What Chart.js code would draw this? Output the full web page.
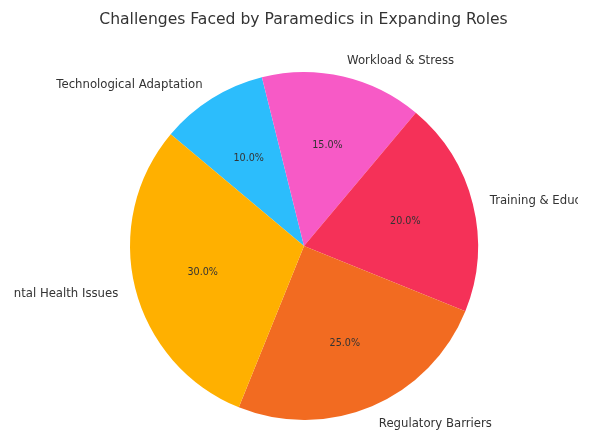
<!DOCTYPE html>
<html>
<head>
<meta charset="utf-8">
<script src="https://cdn.jsdelivr.net/npm/chart.js@4.4.0/dist/chart.umd.min.js"></script>
<style>
  html, body { margin: 0; padding: 0; background: #fff; }
  canvas { display: block; }
</style>
</head>
<body>
<canvas id="chart" width="590" height="432"></canvas>
<script>
// data in matplotlib order (counter-clockwise from 140 deg)
const labels = ['Mental Health Issues', 'Regulatory Barriers', 'Training & Education', 'Workload & Stress', 'Technological Adaptation'];
const shares = [30, 25, 20, 15, 10];
const colors = ['#FFB000', '#F26B21', '#F53158', '#F75AC6', '#2CBDFC'];

const chartTitle = 'Challenges Faced by Paramedics in Expanding Roles';
const FONT = '"DejaVu Sans", sans-serif';

// chart.js goes clockwise, so flip the order
const revLabels = labels.slice().reverse();
const revShares = shares.slice().reverse();
const revColors = colors.slice().reverse();

const pieLabels = {
    id: 'pieLabels',
    afterDraw(chart) {
        const ctx = chart.ctx;
        const total = revShares.reduce((a, b) => a + b, 0);
        ctx.save();
        // original image is cut off on both sides
        ctx.beginPath();
        ctx.rect(14, 0, 564, 432);
        ctx.clip();
        // title
        ctx.fillStyle = '#333333';
        ctx.font = '15.6px ' + FONT;
        ctx.textAlign = 'center';
        ctx.textBaseline = 'middle';
        ctx.fillText(chartTitle, 303.5, 20);

        chart.getDatasetMeta(0).data.forEach((arc, i) => {
            const mid = (arc.startAngle + arc.endAngle) / 2;
            const r = arc.outerRadius;
            const c = Math.cos(mid), s = Math.sin(mid);
            // outer label
            ctx.font = '11.7px ' + FONT;
            ctx.fillStyle = '#333333';
            ctx.textAlign = c >= 0 ? 'left' : 'right';
            ctx.textBaseline = 'middle';
            ctx.fillText(revLabels[i], arc.x + 1.1 * r * c, arc.y + 1.1 * r * s + 1.5);
            // percentage
            ctx.font = '9.6px ' + FONT;
            ctx.textAlign = 'center';
            ctx.fillStyle = '#333333';
            const pct = (revShares[i] / total * 100).toFixed(1) + '%';
            ctx.fillText(pct, arc.x + 0.6 * r * c, arc.y + 0.6 * r * s + 1);
        });
        ctx.restore();
    }
};

new Chart(document.getElementById('chart'), {
    type: 'pie',
    data: {
        labels: revLabels,
        datasets: [{
            data: revShares,
            backgroundColor: revColors,
            borderWidth: 0
        }]
    },
    plugins: [pieLabels],
    options: {
        responsive: false,
        animation: false,
        rotation: -50,
        events: [],
        layout: {
            padding: { left: 130, right: 112, top: 72, bottom: 12 }
        },
        plugins: {
            legend: { display: false },
            tooltip: { enabled: false },
            title: { display: false }
        }
    }
});
</script>
</body>
</html>
